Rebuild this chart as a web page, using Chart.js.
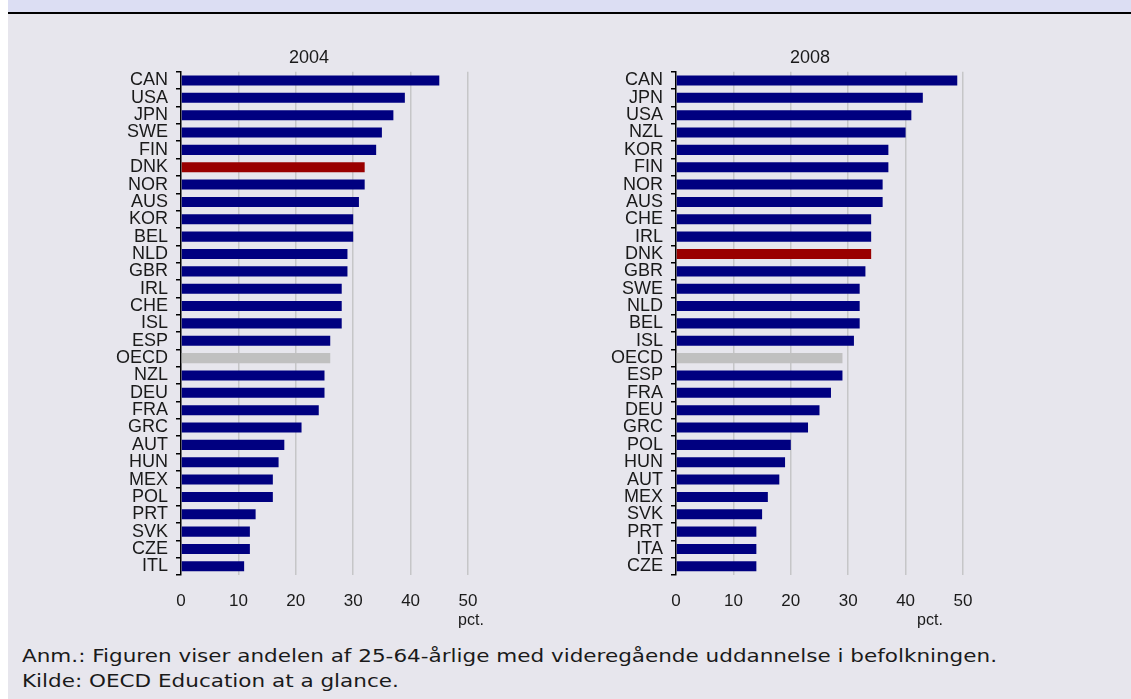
<!DOCTYPE html>
<html>
<head>
<meta charset="utf-8">
<script src="https://cdn.jsdelivr.net/npm/chart.js@4.4.1/dist/chart.umd.min.js"></script>
<style>
  html, body { margin: 0; padding: 0; background: #ffffff; }
  body { width: 1131px; height: 699px; position: relative; overflow: hidden; font-family: "Liberation Sans", Arial, sans-serif; }
  #panel { position: absolute; left: 8px; top: 0; width: 1123px; height: 699px; background: #e7e6ed; }
  #strip { position: absolute; left: 8px; top: 0; width: 1123px; height: 12px; background: #dcdef3; }
  #rule { position: absolute; left: 8px; top: 12px; width: 1123px; height: 2px; background: #000; }
  .cw { position: absolute; }
  .ttl { position: absolute; font-size: 18px; color: #1a1a1a; transform: translate(-50%, -50%); white-space: nowrap; }
  .unit { position: absolute; font-size: 16px; color: #1a1a1a; transform: translate(-50%, -50%); white-space: nowrap; }
  #note { position: absolute; left: 22px; top: 643px; font-family: "DejaVu Sans", Verdana, sans-serif; font-size: 18px; line-height: 25px; color: #1a1a1a; white-space: nowrap; transform-origin: 0 0; }
</style>
</head>
<body>
<div id="panel"></div>
<div id="strip"></div>
<div id="rule"></div>
<div class="cw" style="left:100px;top:53px;width:400px;height:567px;"><canvas id="c1" width="400" height="567"></canvas></div>
<div class="cw" style="left:595px;top:53px;width:400px;height:567px;"><canvas id="c2" width="400" height="567"></canvas></div>
<div class="ttl" style="left:309px;top:57px;">2004</div>
<div class="ttl" style="left:810px;top:57px;">2008</div>
<div class="unit" style="left:471px;top:620px;">pct.</div>
<div class="unit" style="left:930px;top:620px;">pct.</div>
<div id="note"><span id="l1">Anm.: Figuren viser andelen af 25-64-årlige med videregående uddannelse i befolkningen.</span><br>Kilde: OECD Education at a glance.</div>
<script>
const categories2004 = ["CAN","USA","JPN","SWE","FIN","DNK","NOR","AUS","KOR","BEL","NLD","GBR","IRL","CHE","ISL","ESP","OECD","NZL","DEU","FRA","GRC","AUT","HUN","MEX","POL","PRT","SVK","CZE","ITL"];
const values2004 = [45,39,37,35,34,32,32,31,30,30,29,29,28,28,28,26,26,25,25,24,21,18,17,16,16,13,12,12,11];
const categories2008 = ["CAN","JPN","USA","NZL","KOR","FIN","NOR","AUS","CHE","IRL","DNK","GBR","SWE","NLD","BEL","ISL","OECD","ESP","FRA","DEU","GRC","POL","HUN","AUT","MEX","SVK","PRT","ITA","CZE"];
const values2008 = [49,43,41,40,37,37,36,36,34,34,34,33,32,32,32,31,29,29,27,25,23,20,19,18,16,15,14,14,14];
const xTicks = [0,10,20,30,40,50];

const NAVY = "#000080", RED = "#990000", GREY = "#c0c0c0";
function barColor(c) { return c === "DNK" ? RED : (c === "OECD" ? GREY : NAVY); }

// stretch the note horizontally to the reference width
(function () {
  const l1 = document.getElementById("l1");
  const w = l1.getBoundingClientRect().width;
  document.getElementById("note").style.transform = "scaleX(" + (975 / w) + ")";
})();

function makeChart(id, cats, vals) {
  return new Chart(document.getElementById(id), {
    type: "bar",
    data: {
      labels: cats,
      datasets: [{
        data: vals,
        backgroundColor: cats.map(barColor),
        borderWidth: 0,
        barPercentage: 0.58,
        categoryPercentage: 1.0
      }]
    },
    options: {
      indexAxis: "y",
      responsive: false,
      animation: false,
      devicePixelRatio: 1,
      layout: { padding: { left: 0, top: 0, right: 32, bottom: 0 } },
      plugins: { legend: { display: false }, tooltip: { enabled: false }, title: { display: false } },
      scales: {
        x: {
          type: "linear",
          min: 0, max: 50,
          afterBuildTicks: (s) => { s.ticks = xTicks.map(v => ({ value: v })); },
          afterFit: (s) => { s.height = 45; },
          grid: {
            drawTicks: false,
            color: (ctx) => ctx.tick && ctx.tick.value === 0 ? "rgba(0,0,0,0)" : "#c6c6c8",
            lineWidth: 1.5
          },
          border: { display: false },
          ticks: { padding: 16, color: "#1a1a1a", font: { family: "Liberation Sans, Arial, sans-serif", size: 17 } }
        },
        y: {
          type: "category",
          afterFit: (s) => { s.width = 81; },
          grid: {
            offset: true,
            drawOnChartArea: false,
            drawTicks: true,
            tickLength: 5,
            color: "#000000",
            lineWidth: 1.5
          },
          border: { display: true, color: "#000000", width: 1.5 },
          ticks: { padding: 8, autoSkip: false, color: "#1a1a1a", font: { family: "Liberation Sans, Arial, sans-serif", size: 18 } }
        }
      }
    }
  });
}
makeChart("c1", categories2004, values2004);
makeChart("c2", categories2008, values2008);
</script>
</body>
</html>
